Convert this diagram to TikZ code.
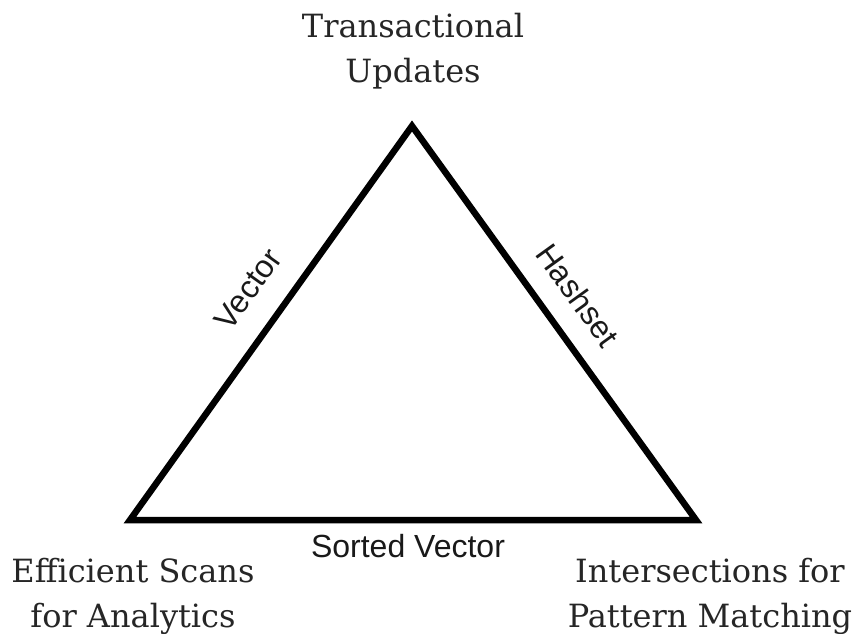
\documentclass[tikz,border=0pt]{standalone}
\usepackage{fontspec}
\setmainfont{DejaVu Serif}
\newfontfamily\edgefont{Liberation Sans}
\begin{document}
\begin{tikzpicture}[x=1pt,y=-1pt,
  corner/.style={font=\fontsize{32}{45}\selectfont, align=center, inner sep=0pt, text=black!85},
  edgelabel/.style={font=\edgefont\fontsize{32}{36}\selectfont, inner sep=0pt, text=black!90},
  side/.style={line width=6.5pt, line join=miter, line cap=butt}]
\useasboundingbox[fill=white] (0,0) rectangle (855,634);
\coordinate (A) at (412,126);
\coordinate (B) at (130,520);
\coordinate (C) at (696,520);
\draw[side] (A) -- (C) -- (B) -- cycle;
\node[corner] (top) at (413,51) {Transactional\\Updates};
\node[corner] (left) at (133,596) {Efficient Scans\\for Analytics};
\node[corner] (right) at (710,596) {Intersections for\\Pattern Matching};
\node[edgelabel, rotate=54.4] (vec) at (248,289) {Vector};
\node[edgelabel, rotate=-54.2] (hash) at (578,295) {Hashset};
\node[edgelabel] (sorted) at (408,546) {Sorted Vector};
\end{tikzpicture}
\end{document}
